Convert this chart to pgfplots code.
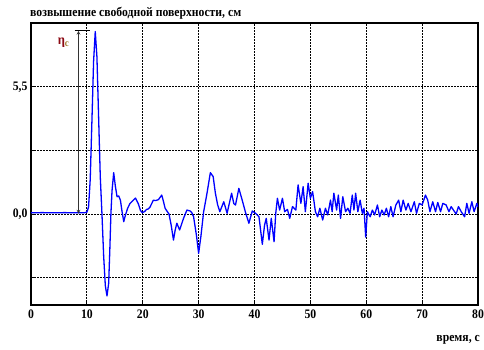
\documentclass[border=0pt]{standalone}
\usepackage{fontspec}
\setmainfont{Liberation Serif}
\newfontfamily\condbold[FakeStretch=0.9]{Liberation Serif Bold}
\usepackage{pgfplots}
\pgfplotsset{compat=1.18}
\definecolor{etared}{RGB}{140,10,20}
\definecolor{etac}{RGB}{160,120,40}
\begin{document}
\begin{tikzpicture}
\begin{axis}[
  scale only axis,
  width=447pt, height=282pt,
  at={(0,0)}, anchor=south west,
  xmin=0, xmax=80, ymin=-3.94, ymax=8.27,
  xtick={0,10,...,80},
  ytick={-2.75,0,2.75,5.5},
  yticklabels={{},{0,0},{},{5,5}},
  /pgf/number format/assume math mode=true,
  ticklabel style={font=\condbold\fontsize{13}{15}\selectfont},
  xticklabel style={yshift=-1pt},
  grid=major,
  major grid style={black, line width=1pt, dash pattern=on 1.8pt off 1.2pt},
  axis line style={black, line width=1.4pt},
  tick style={black, line width=1pt},
  major tick length=3pt,
  tick align=inside,
  clip=true,
]
\addplot[blue, line width=1.3pt, line join=round] coordinates {
(0,0.05) (2,0.06) (4,0.05) (6,0.06) (8,0.05) (9.5,0.05) (10.0,0.08) (10.3,0.3) (10.6,1.5) (10.9,4.0) (11.2,6.6) (11.5,7.9) (11.8,6.8) (12.1,4.2) (12.4,1.6) (12.7,0.0) (13.0,-1.8) (13.3,-3.1) (13.6,-3.55) (13.9,-3.0) (14.1,-1.6) (14.3,0.0) (14.5,1.0) (14.8,1.79) (15.1,1.2) (15.4,0.75) (15.7,0.78) (16.0,0.6) (16.3,0.1) (16.6,-0.33) (16.9,-0.05) (17.3,0.25) (17.7,0.45) (18.1,0.55) (18.7,0.69) (19.2,0.45) (19.6,0.15) (19.9,0.06) (20.3,0.1) (20.7,0.2) (21.0,0.22) (21.3,0.3) (21.6,0.45) (21.9,0.6) (22.3,0.58) (22.8,0.62) (23.4,0.82) (23.7,0.55) (24.0,0.25) (24.4,0.1) (24.7,0.0) (25.1,-0.5) (25.5,-1.13) (25.8,-0.7) (26.1,-0.4) (26.6,-0.69) (27.0,-0.4) (27.3,-0.19) (27.9,0.17) (28.5,0.13) (28.8,0.05) (29.1,-0.12) (29.6,-0.91) (30.0,-1.7) (30.4,-0.98) (30.9,0.1) (31.5,0.9) (32.1,1.79) (32.6,1.62) (33.0,0.9) (33.4,0.4) (33.8,0.1) (34.5,0.53) (35.1,0.03) (35.9,0.9) (36.3,0.45) (36.6,0.39) (37.2,1.11) (37.8,0.6) (38.4,0.06) (39.0,-0.4) (39.6,0.13) (40.2,0.03) (40.8,-0.12) (41.4,-1.31) (41.8,-0.48) (42.1,-0.19) (42.6,-1.13) (43.0,-0.19) (43.5,-1.2) (43.8,0.03) (44.1,0.68) (44.5,0.17) (45.0,0.68) (45.4,0.1) (45.9,0.2) (46.3,-0.19) (46.8,0.32) (47.4,0.17) (47.8,1.26) (48.3,0.46) (48.7,1.18) (49.1,0.1) (49.6,1.33) (50.0,0.68) (50.4,0.97) (50.9,0.1) (51.3,-0.12) (51.7,0.25) (52.2,-0.26) (52.7,0.25) (53.1,-0.04) (53.6,0.6) (53.9,0.1) (54.2,0.9) (54.7,0.17) (55.0,0.82) (55.4,-0.19) (55.8,0.75) (56.3,0.1) (56.7,0.25) (57.1,0.03) (57.5,0.82) (57.8,0.17) (58.1,0.9) (58.5,0.1) (58.9,0.6) (59.3,0.03) (59.6,0.25) (59.9,-1.0) (60.2,0.1) (60.7,-0.12) (61.1,0.17) (61.5,-0.04) (62.0,0.39) (62.4,-0.12) (62.8,0.17) (63.2,-0.04) (63.6,0.25) (64.0,-0.12) (64.4,0.32) (64.8,-0.12) (65.3,0.39) (65.8,0.6) (66.2,0.1) (66.6,0.6) (67.1,0.17) (67.5,0.46) (68.0,0.1) (68.6,0.53) (69.0,0.03) (69.5,0.46) (70.0,0.39) (70.6,0.82) (71.0,0.6) (71.4,0.1) (71.9,0.53) (72.4,0.1) (72.8,0.5) (73.3,0.1) (73.7,0.46) (74.3,0.39) (74.8,0.1) (75.2,0.32) (75.6,0.17) (76.1,0.0) (76.5,0.32) (77.0,0.1) (77.6,-0.12) (78.0,0.46) (78.4,0.03) (78.9,0.53) (79.3,0.1) (79.8,0.46) (80,0.3)
};
\draw[black!80, line width=0.7pt, <->, >=stealth] (axis cs:8.5,7.93) -- (axis cs:8.5,0.02);
\draw[black, line width=1.3pt] (axis cs:7.8,7.95) -- (axis cs:10.6,7.95);
\node[anchor=center, inner sep=0pt] at (axis cs:5.8,7.4) {\condbold\fontsize{14}{16}\selectfont\textcolor{etared}{η}\textcolor{etac}{\raisebox{-2pt}{\fontsize{10}{11}\selectfont c}}};
\end{axis}
\node[anchor=base west, inner sep=0pt] at (-1pt,288pt) {\condbold\fontsize{13}{15}\selectfont возвышение свободной поверхности, см};
\node[anchor=base east, inner sep=0pt] at (449pt,-37pt) {\condbold\fontsize{13}{15}\selectfont время, с};
\pgfresetboundingbox
\path (-31pt,-45pt) rectangle (453pt,305pt);
\end{tikzpicture}
\end{document}
